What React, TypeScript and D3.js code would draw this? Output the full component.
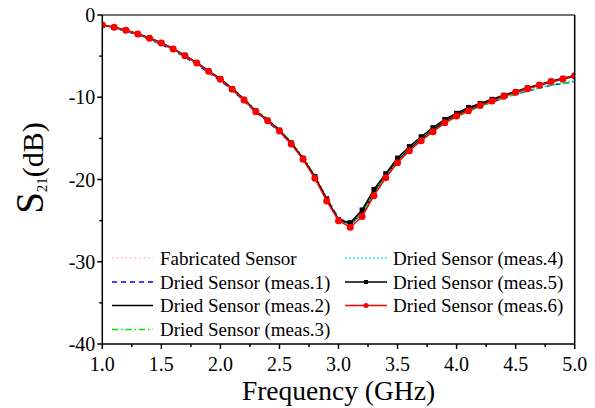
import { useEffect, useRef } from "react";
import * as d3 from "d3";

// frequency points (GHz)
const freq = [
  1.0, 1.1, 1.2, 1.3, 1.4, 1.5, 1.6, 1.7, 1.8, 1.9, 2.0, 2.1, 2.2, 2.3, 2.4, 2.5, 2.6, 2.7, 2.8, 2.9, 3.0,
  3.1, 3.2, 3.3, 3.4, 3.5, 3.6, 3.7, 3.8, 3.9, 4.0, 4.1, 4.2, 4.3, 4.4, 4.5, 4.6, 4.7, 4.8, 4.9, 5.0,
];

// S21 (dB) for each trace
const fabricated = [
  -1.2, -1.5, -1.86, -2.3, -2.83, -3.38, -4.1, -4.9, -5.78, -6.78, -7.72, -8.9, -10.15, -11.55, -12.65, -13.9,
  -15.4, -17.2, -19.4, -22.0, -24.5, -25.2, -24.0, -21.6, -19.5, -17.7, -16.3, -15.1, -14.05, -13.05, -12.25,
  -11.6, -11.0, -10.5, -10.0, -9.55, -9.15, -8.75, -8.4, -8.1, -7.85,
];
const meas1 = [
  -1.25, -1.6, -1.98, -2.45, -3.0, -3.58, -4.3, -5.12, -6.02, -7.02, -8.0, -9.15, -10.45, -11.85, -12.95, -14.2,
  -15.7, -17.5, -19.7, -22.3, -24.7, -25.35, -24.0, -21.5, -19.5, -17.7, -16.35, -15.15, -14.1, -13.1, -12.35,
  -11.7, -11.1, -10.6, -10.1, -9.65, -9.25, -8.9, -8.55, -8.3, -8.15,
];
const meas2 = [
  -1.23, -1.52, -1.88, -2.33, -2.86, -3.43, -4.15, -4.98, -5.86, -6.88, -7.85, -9.05, -10.35, -11.72, -12.85,
  -14.1, -15.65, -17.5, -19.8, -22.5, -24.9, -25.45, -24.1, -21.6, -19.55, -17.7, -16.3, -15.05, -13.95, -12.9,
  -12.1, -11.45, -10.9, -10.4, -9.85, -9.4, -8.95, -8.55, -8.15, -7.8, -7.45,
];
const meas3 = [
  -1.22, -1.55, -1.92, -2.38, -2.92, -3.48, -4.2, -5.0, -5.85, -6.82, -7.75, -8.9, -10.15, -11.5, -12.65, -13.95,
  -15.45, -17.3, -19.6, -22.3, -24.8, -25.4, -24.1, -21.7, -19.6, -17.8, -16.4, -15.2, -14.15, -13.15, -12.38,
  -11.72, -11.12, -10.6, -10.1, -9.65, -9.25, -8.88, -8.55, -8.3, -8.1,
];
const meas4 = [
  -1.24, -1.57, -1.94, -2.4, -2.95, -3.52, -4.24, -5.05, -5.93, -6.92, -7.9, -9.08, -10.38, -11.78, -12.9, -14.15,
  -15.68, -17.5, -19.75, -22.45, -24.85, -25.5, -24.2, -21.75, -19.65, -17.85, -16.45, -15.25, -14.2, -13.15,
  -12.35, -11.68, -11.08, -10.55, -10.05, -9.6, -9.18, -8.8, -8.45, -8.2, -8.0,
];
const meas5 = [
  -1.2, -1.48, -1.84, -2.28, -2.8, -3.36, -4.08, -4.9, -5.78, -6.78, -7.75, -8.95, -10.25, -11.65, -12.78, -14.0,
  -15.55, -17.4, -19.65, -22.35, -24.9, -25.25, -23.7, -21.2, -19.3, -17.4, -16.0, -14.8, -13.7, -12.7, -11.95,
  -11.25, -10.75, -10.25, -9.75, -9.3, -8.85, -8.45, -8.05, -7.7, -7.35,
];
const meas6 = [
  -1.22, -1.5, -1.86, -2.31, -2.84, -3.4, -4.13, -4.95, -5.84, -6.85, -7.82, -9.03, -10.33, -11.75, -12.85, -14.1,
  -15.68, -17.55, -19.85, -22.6, -25.0, -25.8, -24.5, -21.97, -19.8, -17.96, -16.5, -15.28, -14.19, -13.09,
  -12.28, -11.63, -11.0, -10.46, -9.89, -9.4, -8.96, -8.5, -8.1, -7.78, -7.38,
];

const xTicks = [1.0, 1.5, 2.0, 2.5, 3.0, 3.5, 4.0, 4.5, 5.0];
const yTicks = [0, -10, -20, -30, -40];

type Series = {
  name: string;
  values: number[];
  color: string;
  dash: string | null;
  marker: "none" | "square" | "circle";
  col: number;
  row: number;
};

const series: Series[] = [
  { name: "Fabricated Sensor", values: fabricated, color: "#ffb0c0", dash: "1.5,3", marker: "none", col: 0, row: 0 },
  { name: "Dried Sensor (meas.1)", values: meas1, color: "#0000ff", dash: "5,4", marker: "none", col: 0, row: 1 },
  { name: "Dried Sensor (meas.2)", values: meas2, color: "#000000", dash: null, marker: "none", col: 0, row: 2 },
  { name: "Dried Sensor (meas.3)", values: meas3, color: "#00e000", dash: "6,3,1.5,3", marker: "none", col: 0, row: 3 },
  { name: "Dried Sensor (meas.4)", values: meas4, color: "#00e5e5", dash: "1.5,2.5", marker: "none", col: 1, row: 0 },
  { name: "Dried Sensor (meas.5)", values: meas5, color: "#000000", dash: null, marker: "square", col: 1, row: 1 },
  { name: "Dried Sensor (meas.6)", values: meas6, color: "#ff0000", dash: null, marker: "circle", col: 1, row: 2 },
];

const W = 595;
const H = 408;
const FONT = "Liberation Serif, Times New Roman, serif";

export default function App() {
  const ref = useRef<SVGSVGElement>(null);

  useEffect(() => {
    const svg = d3.select(ref.current);
    svg.selectAll("*").remove();

    const left = 102.3;
    const right = 574.7;
    const top = 15;
    const bottom = 344;

    const x = d3.scaleLinear().domain([1, 5]).range([left, right]);
    const y = d3.scaleLinear().domain([-40, 0]).range([bottom, top]);

    svg
      .append("defs")
      .append("clipPath")
      .attr("id", "plot-clip")
      .append("rect")
      .attr("x", left)
      .attr("y", top)
      .attr("width", right - left)
      .attr("height", bottom - top);

    const plot = svg.append("g").attr("clip-path", "url(#plot-clip)");

    const line = d3
      .line<number>()
      .x((_, i) => x(freq[i]))
      .y((d) => y(d));

    series.forEach((s) => {
      plot
        .append("path")
        .datum(s.values)
        .attr("d", line)
        .attr("fill", "none")
        .attr("stroke", s.color)
        .attr("stroke-width", s.marker === "none" ? 1.4 : 1.5)
        .attr("stroke-dasharray", s.dash);

      if (s.marker === "square") {
        plot
          .selectAll(null)
          .data(s.values)
          .enter()
          .append("rect")
          .attr("x", (_, i) => x(freq[i]) - 2.5)
          .attr("y", (d) => y(d) - 2.5)
          .attr("width", 5)
          .attr("height", 5)
          .attr("fill", s.color);
      } else if (s.marker === "circle") {
        plot
          .selectAll(null)
          .data(s.values)
          .enter()
          .append("circle")
          .attr("cx", (_, i) => x(freq[i]))
          .attr("cy", (d) => y(d))
          .attr("r", 3.5)
          .attr("fill", s.color);
      }
    });

    // axes frame
    const frame = svg.append("g").attr("stroke", "#000").attr("stroke-width", 1.5);
    frame.append("line").attr("x1", left).attr("x2", right).attr("y1", top).attr("y2", top).attr("stroke", "#444");
    frame.append("line").attr("x1", right).attr("x2", right).attr("y1", top).attr("y2", bottom);
    frame.append("line").attr("x1", left).attr("x2", right).attr("y1", bottom).attr("y2", bottom);
    frame.append("line").attr("x1", left).attr("x2", left).attr("y1", top).attr("y2", bottom);

    // x ticks
    const xMinor = [1.25, 1.75, 2.25, 2.75, 3.25, 3.75, 4.25, 4.75];
    frame
      .selectAll(null)
      .data(xTicks)
      .enter()
      .append("line")
      .attr("x1", (d) => x(d))
      .attr("x2", (d) => x(d))
      .attr("y1", bottom)
      .attr("y2", bottom + 5);
    frame
      .selectAll(null)
      .data(xMinor)
      .enter()
      .append("line")
      .attr("x1", (d) => x(d))
      .attr("x2", (d) => x(d))
      .attr("y1", bottom)
      .attr("y2", bottom + 3);

    // y ticks
    const yMinor = [-5, -15, -25, -35];
    frame
      .selectAll(null)
      .data(yTicks)
      .enter()
      .append("line")
      .attr("x1", left - 5)
      .attr("x2", left)
      .attr("y1", (d) => y(d))
      .attr("y2", (d) => y(d));
    frame
      .selectAll(null)
      .data(yMinor)
      .enter()
      .append("line")
      .attr("x1", left - 3)
      .attr("x2", left)
      .attr("y1", (d) => y(d))
      .attr("y2", (d) => y(d));

    const labels = svg.append("g").attr("fill", "#000");

    labels
      .selectAll(null)
      .data(xTicks)
      .enter()
      .append("text")
      .attr("x", (d) => x(d))
      .attr("y", bottom + 27)
      .attr("text-anchor", "middle")
      .attr("font-family", FONT)
      .attr("font-size", 20)
      .text((d) => d.toFixed(1));

    labels
      .selectAll(null)
      .data(yTicks)
      .enter()
      .append("text")
      .attr("x", left - 7)
      .attr("y", (d) => y(d) + 7)
      .attr("text-anchor", "end")
      .attr("font-family", FONT)
      .attr("font-size", 20)
      .text((d) => (d < 0 ? "-" + Math.abs(d) : String(d)));

    // axis titles
    labels
      .append("text")
      .attr("x", (left + right) / 2)
      .attr("y", 400)
      .attr("text-anchor", "middle")
      .attr("font-family", FONT)
      .attr("font-size", 27.5)
      .text("Frequency (GHz)");

    const yt = labels
      .append("text")
      .attr("transform", "translate(43,168) rotate(-90)")
      .attr("text-anchor", "middle")
      .attr("font-family", FONT);
    yt.append("tspan").attr("font-size", 39).text("S");
    yt.append("tspan").attr("font-size", 15).attr("dy", 4).text("21");
    yt.append("tspan").attr("font-size", 30).attr("dy", -4).text("(dB)");

    // legend
    const cols = [
      { x0: 112, x1: 153, tx: 160 },
      { x0: 345, x1: 387, tx: 393 },
    ];
    const rowY = [258, 282, 305.5, 329.5];
    const legend = svg.append("g");
    series.forEach((s) => {
      const c = cols[s.col];
      const ry = rowY[s.row];
      legend
        .append("line")
        .attr("x1", c.x0)
        .attr("x2", c.x1)
        .attr("y1", ry)
        .attr("y2", ry)
        .attr("stroke", s.color)
        .attr("stroke-width", 1.5)
        .attr("stroke-dasharray", s.dash);
      if (s.marker === "square") {
        legend
          .append("rect")
          .attr("x", (c.x0 + c.x1) / 2 - 2)
          .attr("y", ry - 2)
          .attr("width", 4)
          .attr("height", 4)
          .attr("fill", s.color);
      } else if (s.marker === "circle") {
        legend
          .append("circle")
          .attr("cx", (c.x0 + c.x1) / 2)
          .attr("cy", ry)
          .attr("r", 2.5)
          .attr("fill", s.color);
      }
      legend
        .append("text")
        .attr("x", c.tx)
        .attr("y", ry + 6.5)
        .attr("font-family", FONT)
        .attr("font-size", 19)
        .attr("fill", "#000")
        .text(s.name);
    });
  }, []);

  return (
    <svg
      ref={ref}
      width={W}
      height={H}
      style={{ position: "absolute", left: 0, top: 0, background: "#fff" }}
    />
  );
}
